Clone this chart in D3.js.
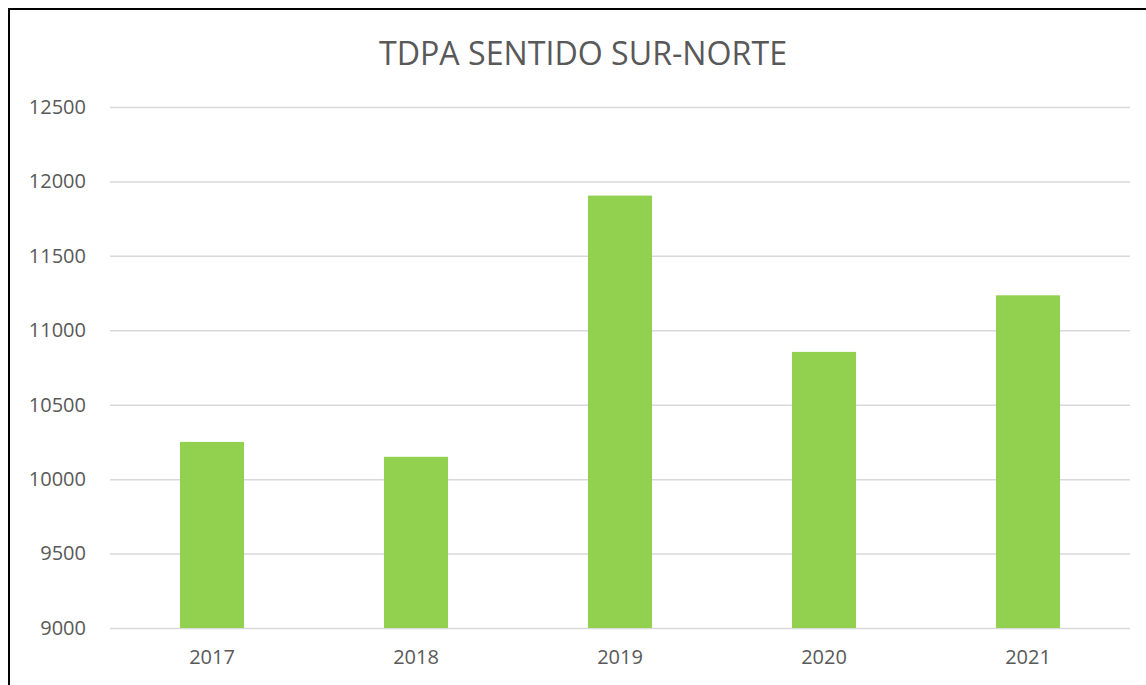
<!DOCTYPE html>
<html>
<head>
<meta charset="utf-8">
<script src="https://cdn.jsdelivr.net/npm/d3@7"></script>
<style>
  body { margin: 0; background: #fff; }
  svg text { font-family: "Open Sans", "Liberation Sans", sans-serif; fill: #595959; }
</style>
</head>
<body>
<div id="chart"></div>
<script>
var years = ["2017", "2018", "2019", "2020", "2021"];
var tdpa = [10250, 10150, 11905, 10855, 11235];
var yTicks = [9000, 9500, 10000, 10500, 11000, 11500, 12000, 12500];

var width = 1146, height = 685;
var margins = { top: 107, right: 16, bottom: 57, left: 110 };
var chartWidth = width - margins.left - margins.right;
var chartHeight = height - margins.top - margins.bottom;

var svg = d3.select("#chart")
  .append("svg")
  .attr("width", width)
  .attr("height", height);

// outer frame (only top and left edges are visible)
svg.append("path")
  .attr("d", "M9,686 L9,9 L1147,9")
  .attr("fill", "none")
  .attr("stroke", "#000")
  .attr("stroke-width", 2);

svg.append("text")
  .attr("x", 583)
  .attr("y", 65)
  .attr("text-anchor", "middle")
  .attr("font-size", 32)
  .attr("textLength", 408)
  .attr("lengthAdjust", "spacingAndGlyphs")
  .text("TDPA SENTIDO SUR-NORTE");

var chartElement = svg.append("g")
  .attr("transform", `translate(${margins.left},${margins.top})`);

var xScale = d3.scaleBand()
  .domain(years)
  .range([0, chartWidth])
  .paddingInner(0.686)
  .paddingOuter(0.343);

var yScale = d3.scaleLinear()
  .domain([9000, 12500])
  .range([chartHeight, 0]);

// grid
chartElement.append("g")
  .attr("class", "y grid")
  .call(d3.axisLeft(yScale).tickValues(yTicks).tickSize(-chartWidth).tickFormat(""))
  .call(g => g.select(".domain").remove())
  .call(g => g.selectAll("line").attr("stroke", "#d9d9d9").attr("stroke-width", 1.5));

// y labels
chartElement.append("g")
  .attr("class", "y axis")
  .call(d3.axisLeft(yScale).tickValues(yTicks).tickSize(0).tickPadding(24).tickFormat(d => d))
  .call(g => g.select(".domain").remove())
  .call(g => g.selectAll("text").attr("font-size", 20).style("font-family", null).attr("fill", "#595959"));

// bars
chartElement.append("g")
  .attr("class", "bars")
  .selectAll("rect")
  .data(years)
  .enter()
  .append("rect")
  .attr("x", d => xScale(d))
  .attr("y", (d, i) => yScale(tdpa[i]))
  .attr("width", xScale.bandwidth())
  .attr("height", (d, i) => yScale(9000) - yScale(tdpa[i]))
  .attr("fill", "#92d050");

// x labels
chartElement.append("g")
  .attr("class", "x axis")
  .attr("transform", `translate(0,${chartHeight})`)
  .call(d3.axisBottom(xScale).tickSize(0).tickPadding(22))
  .call(g => g.select(".domain").remove())
  .call(g => g.selectAll("text").attr("font-size", 20).style("font-family", null).attr("fill", "#595959"));
</script>
</body>
</html>
